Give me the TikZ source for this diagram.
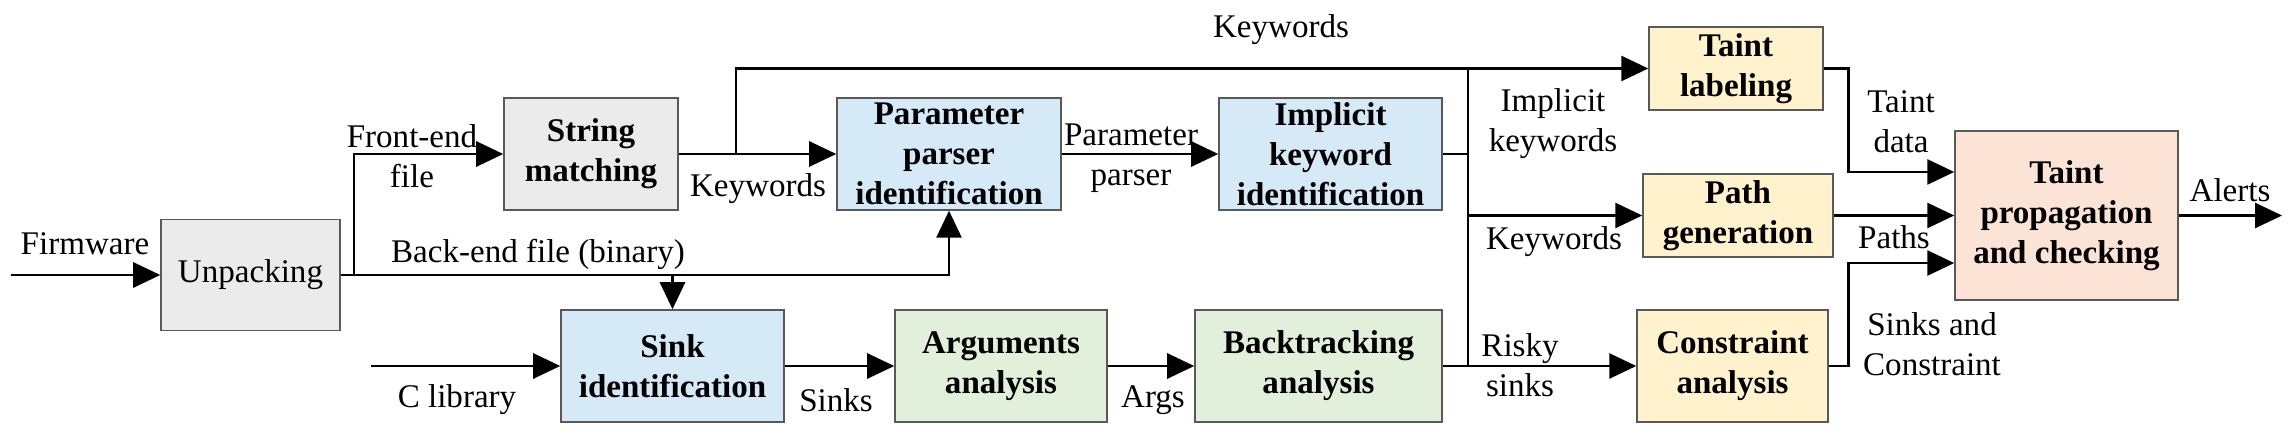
\documentclass[tikz,border=0pt]{standalone}
\usepackage{fontspec}
\setmainfont{Liberation Serif}
\usepackage{tikz}
\usetikzlibrary{
    arrows.meta,
    positioning
}

\definecolor{boxgray}{HTML}{EBEBEB}
\definecolor{boxblue}{HTML}{D5E9F6}
\definecolor{boxgreen}{HTML}{E2EFDA}
\definecolor{boxyellow}{HTML}{FFF2CC}
\definecolor{boxpeach}{HTML}{FBE4D5}

\begin{document}
\begin{tikzpicture}[x=0.01cm,y=-0.01cm,
    font=\fontsize{9.4}{11.4}\selectfont,
    block/.style={draw=black!65, line width=0.4pt, inner sep=0pt, align=center,
        font=\fontsize{9.4}{11.4}\selectfont\bfseries},
    lbl/.style={inner sep=0pt, align=center},
    arr/.style={line width=0.8pt, -{Triangle[length=0.27cm,width=0.25cm]}},
    wire/.style={line width=0.8pt}
]
\useasboundingbox (0,0) rectangle (2292,434);

% Blocks
\node[block, fill=boxgray, minimum width=1.79cm, minimum height=1.11cm] (unpack) at (250.5,275) {\mdseries Unpacking};
\node[block, fill=boxgray, minimum width=1.74cm, minimum height=1.12cm] (string) at (591,154) {String\\matching};
\node[block, fill=boxblue, minimum width=2.24cm, minimum height=1.12cm] (param) at (949,154) {Parameter\\parser\\identification};
\node[block, fill=boxblue, minimum width=2.23cm, minimum height=1.12cm] (implicit) at (1330.5,154) {Implicit\\keyword\\identification};
\node[block, fill=boxblue, minimum width=2.23cm, minimum height=1.12cm] (sink) at (672.5,366) {Sink\\identification};
\node[block, fill=boxgreen, minimum width=2.12cm, minimum height=1.12cm] (args) at (1001,366) {Arguments\\analysis};
\node[block, fill=boxgreen, minimum width=2.47cm, minimum height=1.12cm] (back) at (1318.5,366) {Backtracking\\analysis};
\node[block, fill=boxyellow, minimum width=1.74cm, minimum height=0.83cm] (taintlab) at (1736,68.5) {Taint\\labeling};
\node[block, fill=boxyellow, minimum width=1.90cm, minimum height=0.83cm] (pathgen) at (1738,215.5) {Path\\generation};
\node[block, fill=boxyellow, minimum width=1.91cm, minimum height=1.12cm] (constr) at (1732.5,366) {Constraint\\analysis};
\node[block, fill=boxpeach, minimum width=2.23cm, minimum height=1.69cm] (taintprop) at (2066.5,215.5) {Taint\\propagation\\and checking};

% Free ends and forks
\coordinate (fwin) at (11,275);
\coordinate (clibin) at (371,366);
\coordinate (fork1) at (354,275);
\coordinate (fork2) at (736,154);
\coordinate (bustop) at (1468,68.5);
\coordinate (busbot) at (1468,366);
\coordinate (alertend) at (2282,215.5);

% Front part
\draw[arr] (fwin) -- (unpack.west);
\draw[arr] (unpack.east) -| (param.south);
\draw[arr] (fork1) |- (string.west);
\draw[arr] (sink.north |- unpack.east) -- (sink.north);
\draw[arr] (string.east) -- (param.west);
\draw[arr] (fork2) |- (taintlab.west);
\draw[arr] (param.east) -- (implicit.west);

% Sink chain
\draw[arr] (clibin) -- (sink.west);
\draw[arr] (sink.east) -- (args.west);
\draw[arr] (args.east) -- (back.west);
\draw[arr] (back.east) -- (constr.west);

% Bus to the taint stages
\draw[wire] (bustop) -- (busbot);
\draw[wire] (implicit.east) -- (implicit.east -| bustop);
\draw[arr] (pathgen.west -| bustop) -- (pathgen.west);

% Into taint propagation
\draw[arr] (taintlab.east) -- ++(25,0) |- ([yshift=0.435cm]taintprop.west);
\draw[arr] (pathgen.east) -- (taintprop.west);
\draw[arr] (constr.east) -- ++(20,0) |- ([yshift=-0.475cm]taintprop.west);
\draw[arr] (taintprop.east) -- (alertend);

% Labels
\node[lbl] (lfirm) at (85,244) {Firmware};
\node[lbl] (lfront) at (412,156) {Front-end\\file};
\node[lbl] (lbackend) at (538,254) {Back-end file (binary)};
\node[lbl] (lkw1) at (758,189) {Keywords};
\node[lbl] (lkwtop) at (1281,30) {Keywords};
\node[lbl] (lparser) at (1131,158) {Parameter\\parser};
\node[lbl] (limpl) at (1553,124) {Implicit\\keywords};
\node[lbl] (lkw2) at (1554,242) {Keywords};
\node[lbl] (lrisky) at (1520,365) {Risky\\sinks};
\node[lbl] (lclib) at (457,400) {C library};
\node[lbl] (lsinks) at (836,400) {Sinks};
\node[lbl] (largs) at (1153,400) {Args};
\node[lbl] (ldata) at (1901,122) {Taint\\data};
\node[lbl] (lpaths) at (1894,237) {Paths};
\node[lbl] (lsc) at (1932,344) {Sinks and\\Constraint};
\node[lbl] (lalerts) at (2230,190) {Alerts};

\end{tikzpicture}
\end{document}
